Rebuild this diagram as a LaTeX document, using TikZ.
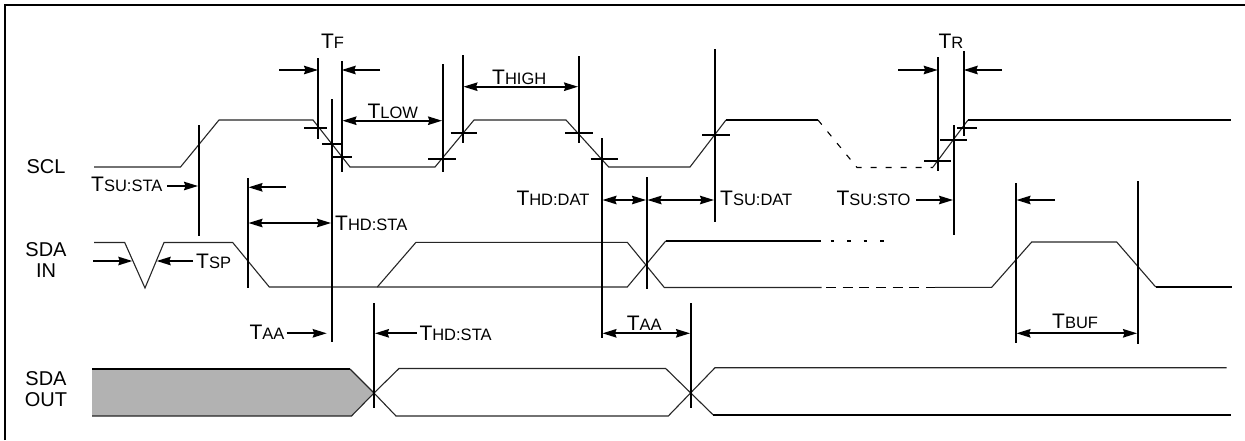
\documentclass[tikz,border=0pt]{standalone}
\usepackage{fontspec}
\setmainfont{Liberation Sans}
\usetikzlibrary{arrows.meta}
\newcommand{\bigT}[2]{{\fontsize{21}{22}\selectfont #1}{\fontsize{16.5}{18}\selectfont #2}}
\newcommand{\SigFont}{\fontsize{20}{22}\selectfont}
\tikzset{
  wave/.style={line width=1.1pt,black!85,line join=miter},
  wavethick/.style={line width=1.7pt,black},
  dashthin/.style={line width=1.1pt,black,dash pattern=on 10pt off 6.67pt},
  dashsmall/.style={line width=1.1pt,black,dash pattern=on 6pt off 9pt},
  rulev/.style={line width=1.7pt,black},
  dim/.style={line width=1.7pt,black,-{Stealth[length=14pt,width=8.5pt,inset=1.5pt]}},
  dimboth/.style={line width=1.7pt,black,{Stealth[length=14pt,width=8.5pt,inset=1.5pt]}-{Stealth[length=14pt,width=8.5pt,inset=1.5pt]}},
  lab/.style={anchor=base west,inner sep=0pt,outer sep=0pt,text=black},
  sig/.style={anchor=base,inner sep=0pt,outer sep=0pt,text=black,font=\SigFont},
}
\begin{document}
\begin{tikzpicture}[x=1pt,y=-1pt]
\useasboundingbox (0,0) rectangle (1245,440);
% frame
\draw[line width=1.7pt] (5,440) -- (5,5) -- (1245,5);
% SDA OUT fill
\fill[black!30] (92,369) -- (350,369) -- (374,393) -- (351.5,416) -- (92,416) -- cycle;
% SCL
\draw[wave] (94,167) -- (180.5,167) -- (219,120) -- (313,120) -- (350,167) -- (435,167) -- (474,120) -- (566,120) -- (608.7,167) -- (690,167) -- (726,120);
\draw[wavethick] (726,120) -- (818,120);
\draw[dashsmall] (818,120) -- (857,167.5) -- (933,167.5);
\draw[wave] (933,167) -- (968,120);
\draw[wavethick] (968,120) -- (1231,120);
% SDA IN
\draw[wave] (94,242.5) -- (124.7,242.5) -- (145,288) -- (164,242.5) -- (232.7,242.5) -- (269.3,287) -- (377.3,287) -- (416,242.3) -- (627.3,242.3) -- (664.3,287.5) -- (821.7,287.5);
\draw[wave] (377.3,287) -- (627.3,287) -- (665.7,241);
\draw[wavethick] (665.7,241) -- (821,241);
\draw[wavethick,dash pattern=on 3.5pt off 13pt] (830.5,241) -- (885,241);
\draw[dashthin] (826,287.5) -- (935,287.5);
\draw[wave] (935,287.3) -- (991.7,287.3) -- (1031.7,242) -- (1116.7,242) -- (1155.7,287);
\draw[wavethick] (1155.7,287) -- (1231.7,287);
% SDA OUT
\draw[wavethick] (92,369) -- (350,369);
\draw[wave] (350,369) -- (374,393) -- (351.5,416) -- (92,416);
\draw[wave] (374,393) -- (399,368.5) -- (665.7,368.5) -- (713.3,415);
\draw[wave] (374,393) -- (396,416) -- (668.3,416) -- (715,367.7) -- (1226.7,367.7);
\draw[wavethick] (713.3,415) -- (1231,415);
% vertical rules
\foreach \x/\a/\b in {318/58/139,341.7/61/172,331.7/99/342,199/125/236,247.7/178/288,442.7/64/172,462.7/55/143,578.7/56/143,601.7/138/338,646.7/177/289,714.7/49/222,937.7/57/171,963.7/51/136,953.7/125/235,1015.7/183/343,1137.7/181/344,690.7/303/408,374/303/408}
  \draw[rulev] (\x,\a) -- (\x,\b);
% tick marks
\foreach \y/\a/\b in {127.7/304/326.7,144/322/341.7,156.7/331.7/351.7,158.7/428/455.7,132.7/450.7/476.7,133/565/592.7,158.7/590.7/617.7,134.7/702/729.7,160.7/924/950.7,139.7/940/966.7,127.7/957/976.7}
  \draw[rulev] (\a,\y) -- (\b,\y);
% dimension arrows
\draw[dim] (279,70) -- (318,70);
\draw[dim] (380,70) -- (341.7,70);
\draw[dim] (898,70) -- (937.7,70);
\draw[dim] (1002,70) -- (963.7,70);
\draw[dimboth] (342.5,120.7) -- (442,120.7);
\draw[dimboth] (463.5,86.7) -- (578,86.7);
\draw[dim] (167,186) -- (198,186);
\draw[dim] (285.7,187.3) -- (248.5,187.3);
\draw[dimboth] (248.5,223) -- (331,223);
\draw[dimboth] (602.5,200) -- (646,200);
\draw[dimboth] (647.5,200) -- (714,200);
\draw[dim] (916,200) -- (953,200);
\draw[dim] (1055,200) -- (1016.5,200);
\draw[dim] (93,261) -- (132.3,261);
\draw[dim] (193,261) -- (156.7,261);
\draw[dim] (286.7,333.3) -- (326.7,333.3);
\draw[dim] (416.7,333.3) -- (375,333.3);
\draw[dimboth] (602.5,333.3) -- (690,333.3);
\draw[dimboth] (1016.5,333.3) -- (1137,333.3);
% labels
\node[lab] (tf) at (321,48) {\bigT{T}{F}};
\node[lab] (tr) at (938.5,48) {\bigT{T}{R}};
\node[lab] (tlow) at (367.5,118) {\bigT{T}{LOW}};
\node[lab] (thigh) at (492.2,84) {\bigT{T}{HIGH}};
\node[lab] (tsusta) at (91.2,191.7) {\bigT{T}{SU:STA}};
\node[lab] (thdsta) at (335.2,230.7) {\bigT{T}{HD:STA}};
\node[lab] (thddat) at (516.5,205.7) {\bigT{T}{HD:DAT}};
\node[lab] (tsudat) at (720.2,205.7) {\bigT{T}{SU:DAT}};
\node[lab] (tsusto) at (836.5,205) {\bigT{T}{SU:STO}};
\node[lab] (tsp) at (196.2,268) {\bigT{T}{SP}};
\node[lab] (taaa) at (249.5,339) {\bigT{T}{AA}};
\node[lab] (thdstb) at (419.5,340) {\bigT{T}{HD:STA}};
\node[lab] (taab) at (626.8,330.7) {\bigT{T}{AA}};
\node[lab] (tbuf) at (1052.2,328.7) {\bigT{T}{BUF}};
\node[sig] (scl) at (46,173.3) {SCL};
\node[sig] (sdaa) at (46,256.7) {SDA};
\node[sig] (in) at (46,277.3) {IN};
\node[sig] (sdab) at (46,385) {SDA};
\node[sig] (out) at (46,406) {OUT};
\end{tikzpicture}
\end{document}
